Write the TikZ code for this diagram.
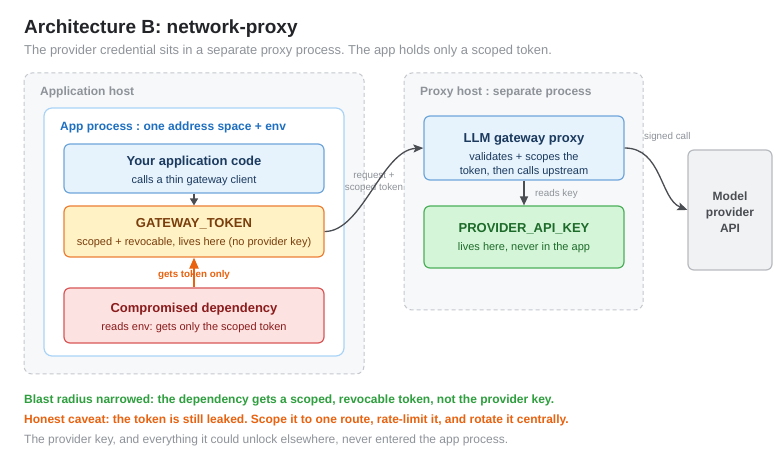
\documentclass[tikz,border=0pt]{standalone}
\usepackage{fontspec}
\setmainfont{Liberation Sans}
\usetikzlibrary{arrows.meta}
\frenchspacing
\definecolor{ink}{HTML}{222428}
\definecolor{mute}{HTML}{8E9399}
\definecolor{hostfill}{HTML}{F7F8FA}
\definecolor{hostline}{HTML}{C4C7CC}
\definecolor{procline}{HTML}{A9D4F7}
\definecolor{procink}{HTML}{1E6FC0}
\definecolor{bluefill}{HTML}{E6F3FD}
\definecolor{blueline}{HTML}{6FA6DA}
\definecolor{blueink}{HTML}{1B3A5E}
\definecolor{tokfill}{HTML}{FFF3C6}
\definecolor{tokline}{HTML}{EC7E35}
\definecolor{tokink}{HTML}{7A3D0C}
\definecolor{redfill}{HTML}{FDE2E2}
\definecolor{redline}{HTML}{D95757}
\definecolor{redink}{HTML}{8A1C1C}
\definecolor{grnfill}{HTML}{D5F5D8}
\definecolor{grnline}{HTML}{4CAF5A}
\definecolor{grnink}{HTML}{1D6B2A}
\definecolor{apifill}{HTML}{F1F2F4}
\definecolor{apiline}{HTML}{B7BABF}
\definecolor{wire}{HTML}{4A4D52}
\definecolor{warn}{HTML}{E8620F}
\definecolor{okgreen}{HTML}{2E9E3E}
\newcommand{\fs}[1]{\fontsize{#1}{#1}\selectfont}
\tikzset{
  host/.style={draw=hostline, fill=hostfill, dash pattern=on 4pt off 3pt, line width=1pt, rounded corners=8pt},
  proc/.style={draw=procline, fill=white, line width=1.2pt, rounded corners=8pt},
  card/.style={line width=1.2pt, rounded corners=6pt},
  lbl/.style={inner sep=0pt, anchor=base west},
  ctr/.style={inner sep=0pt, anchor=base},
  wirearrow/.style={draw=wire, line width=1.3pt, -{Stealth[length=10pt,width=8pt,inset=2pt]}},
}
\begin{document}
\begin{tikzpicture}[x=1pt,y=-1pt]
\useasboundingbox (0,0) rectangle (780,470);
\fill[white] (0,0) rectangle (780,470);

% heading
\node[lbl, text=ink] (title) at (24,34) {\fs{19}\bfseries Architecture B: network-proxy};
\node[lbl, text=mute] (subtitle) at (24,55) {\fs{12.9}The provider credential sits in a separate proxy process. The app holds only a scoped token.};

% hosts
\draw[host] (24,73) rectangle (364,374);
\node[lbl, text=mute] (apphostlbl) at (40,96) {\fs{12}\bfseries Application host};
\draw[host] (404,73) rectangle (643,310);
\node[lbl, text=mute] (proxyhostlbl) at (420,96) {\fs{12}\bfseries Proxy host : separate process};

% application process
\draw[proc] (44,108) rectangle (344,356);
\node[lbl, text=procink] (proclbl) at (60,131) {\fs{12}\bfseries App process : one address space + env};

% cards in the app process
\node[card, draw=blueline, fill=bluefill, minimum width=260pt, minimum height=49pt] (code) at (194,168.5) {};
\node[ctr, text=blueink] (codet) at (194,166) {\fs{13}\bfseries Your application code};
\node[ctr, text=blueink] (codes) at (194,184) {\fs{11}calls a thin gateway client};

\node[card, draw=tokline, fill=tokfill, minimum width=260pt, minimum height=51pt] (tok) at (194,231.5) {};
\node[ctr, text=tokink] (tokt) at (194,228) {\fs{13}\bfseries GATEWAY\_TOKEN};
\node[ctr, text=tokink] (toks) at (194,246) {\fs{11}scoped + revocable, lives here (no provider key)};

\node[card, draw=redline, fill=redfill, minimum width=260pt, minimum height=55pt] (dep) at (194,315.5) {};
\node[ctr, text=redink] (dept) at (194,313) {\fs{13}\bfseries Compromised dependency};
\node[ctr, text=redink] (deps) at (194,331) {\fs{11}reads env: gets only the scoped token};

% proxy host cards
\node[card, draw=blueline, fill=bluefill, minimum width=200pt, minimum height=64pt] (gw) at (524,148) {};
\node[ctr, text=blueink] (gwt) at (524,142.5) {\fs{13}\bfseries LLM gateway proxy};
\node[ctr, text=blueink] (gws1) at (524,161) {\fs{11}validates + scopes the};
\node[ctr, text=blueink] (gws2) at (524,175) {\fs{11}token, then calls upstream};

\node[card, draw=grnline, fill=grnfill, minimum width=200pt, minimum height=62pt] (key) at (524,237) {};
\node[ctr, text=grnink] (keyt) at (524,233) {\fs{13}\bfseries PROVIDER\_API\_KEY};
\node[ctr, text=grnink] (keys) at (524,251) {\fs{11}lives here, never in the app};

% upstream provider
\node[card, draw=apiline, fill=apifill, minimum width=84pt, minimum height=120pt] (api) at (730,210) {};
\node[ctr, text=wire] (api1) at (730,200.5) {\fs{12}\bfseries Model};
\node[ctr, text=wire] (api2) at (730,216.5) {\fs{12}\bfseries provider};
\node[ctr, text=wire] (api3) at (730,232.5) {\fs{12}\bfseries API};

% connectors
\draw[draw=wire, line width=1.3pt, -{Triangle[length=7pt,width=8pt]}] (code.south) -- (tok.north);
\node[ctr, text=warn] (getslbl) at (194,277.5) {\fs{9.8}\bfseries gets token only};
\draw[draw=warn, line width=2pt, -{Triangle[length=11pt,width=9pt]}] (dep.north) -- (tok.south);

\node[ctr, text=mute] (reqlbl1) at (374,179) {\fs{9.8}request +};
\node[ctr, text=mute] (reqlbl2) at (374,190.5) {\fs{9.8}scoped token};
\draw[wirearrow] (tok.east) .. controls (362,232) and (382,150) .. (gw.west);

\draw[draw=wire, line width=1.3pt, -{Triangle[length=9pt,width=8pt]}] (gw.south) -- (key.north);
\node[lbl, text=mute] (readslbl) at (535,196.5) {\fs{9.8}reads key};

\node[lbl, text=mute] (signlbl) at (644,140) {\fs{9.8}signed call};
\draw[wirearrow] (gw.east) .. controls (662,148) and (660,199) .. (api.west);

% notes
\node[lbl, text=okgreen] (note1) at (24,404) {\fs{12}\bfseries Blast radius narrowed: the dependency gets a scoped, revocable token, not the provider key.};
\node[lbl, text=warn] (note2) at (24,424) {\fs{12}\bfseries Honest caveat: the token is still leaked. Scope it to one route, rate-limit it, and rotate it centrally.};
\node[lbl, text=mute] (note3) at (24,444) {\fs{12}The provider key, and everything it could unlock elsewhere, never entered the app process.};
\end{tikzpicture}
\end{document}
